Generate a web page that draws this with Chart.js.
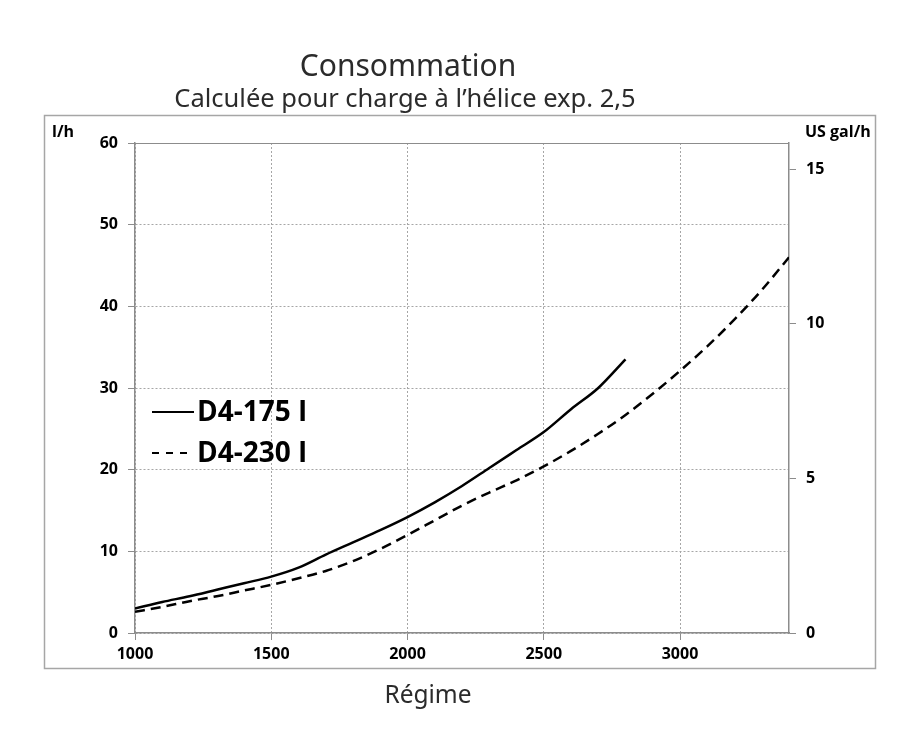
<!DOCTYPE html>
<html>
<head>
<meta charset="utf-8">
<script src="https://cdn.jsdelivr.net/npm/chart.js@4.4.1/dist/chart.umd.min.js"></script>
<style>
  html, body { margin: 0; padding: 0; background: #fff; }
  #wrap { width: 900px; height: 750px; }
</style>
</head>
<body>
<div id="wrap"><canvas id="chart" width="900" height="750"></canvas></div>
<script>
// Chart texts
const titleText = 'Consommation';
const subtitleText = 'Calculée pour charge à l’hélice exp. 2,5';
const xTitle = 'Régime';
const yTitle = 'l/h';
const y2Title = 'US gal/h';

// Engine speed (rpm) and fuel consumption (l/h)
const rpm175 = [1000, 1100, 1200, 1300, 1400, 1500, 1600, 1700, 1800, 1900,
                2000, 2100, 2200, 2300, 2400, 2500, 2600, 2700, 2800];
const d4_175 = [3.0, 3.8, 4.5, 5.3, 6.1, 6.9, 8.0, 9.6, 11.1, 12.6,
                14.2, 16.0, 18.0, 20.2, 22.4, 24.6, 27.4, 30.0, 33.5];

const rpm230 = [1000, 1100, 1200, 1300, 1400, 1500, 1600, 1700, 1800, 1900,
                2000, 2100, 2200, 2300, 2400, 2500, 2600, 2700, 2800, 2900,
                3000, 3100, 3200, 3300, 3400];
const d4_230 = [2.6, 3.2, 3.9, 4.5, 5.2, 5.9, 6.7, 7.6, 8.8, 10.3,
                12.0, 13.8, 15.6, 17.2, 18.7, 20.4, 22.3, 24.4, 26.7, 29.3,
                32.1, 35.1, 38.4, 42.0, 46.0];

// Axis ranges / ticks
const xTicks = [1000, 1500, 2000, 2500, 3000];
const xMin = 1000, xMax = 3400;
const yMax = 60, yStep = 10;
const litresPerGallon = 3.785;
const y2Ticks = [0, 5, 10, 15];

const toPoints = (xs, ys) => xs.map((x, i) => ({ x: x, y: ys[i] }));

const tickFont = { family: 'Open Sans', size: 16, weight: 'bold' };

// Outer frame, titles, unit labels and the in-plot legend
const decor = {
  id: 'decor',
  beforeDraw(chart) {
    const ctx = chart.ctx;
    ctx.save();
    ctx.fillStyle = '#fff';
    ctx.fillRect(0, 0, chart.width, chart.height);
    ctx.strokeStyle = '#a6a6a6';
    ctx.lineWidth = 1.5;
    ctx.strokeRect(44.5, 115.5, 831, 553);
    ctx.restore();
  },
  afterDraw(chart) {
    const ctx = chart.ctx;
    const area = chart.chartArea;
    ctx.save();
    // top edge of the plot area
    ctx.strokeStyle = '#8c8c8c';
    ctx.lineWidth = 1;
    ctx.beginPath();
    ctx.moveTo(area.left, Math.round(area.top) + 0.5);
    ctx.lineTo(area.right, Math.round(area.top) + 0.5);
    ctx.stroke();

    ctx.fillStyle = '#2b2b2b';
    ctx.textAlign = 'center';
    ctx.textBaseline = 'alphabetic';
    ctx.font = '30px "Noto Sans"';
    ctx.fillText(titleText, 408, 76);
    ctx.font = '25.5px "Noto Sans"';
    ctx.fillText(subtitleText, 405, 107);
    ctx.font = '24.5px "Noto Sans"';
    ctx.fillText(xTitle, 428, 703);

    ctx.fillStyle = '#000';
    ctx.font = 'bold 16px "Open Sans"';
    ctx.textAlign = 'left';
    ctx.fillText(yTitle, 52, 137);
    ctx.fillText(y2Title, 805, 137);

    // legend
    const rows = [412, 453];
    chart.data.datasets.forEach((ds, i) => {
      const y = rows[i];
      ctx.strokeStyle = ds.borderColor;
      ctx.lineWidth = 2;
      ctx.setLineDash(ds.borderDash && ds.borderDash.length ? [7, 7] : []);
      ctx.beginPath();
      ctx.moveTo(152, y);
      ctx.lineTo(194, y);
      ctx.stroke();
      ctx.setLineDash([]);
      ctx.fillStyle = '#000';
      ctx.font = 'bold 28px "Open Sans"';
      ctx.textBaseline = 'middle';
      ctx.fillText(ds.label, 197, y + 1);
    });
    ctx.restore();
  }
};

new Chart(document.getElementById('chart'), {
  type: 'line',
  data: {
    datasets: [
      {
        label: 'D4-175 I',
        data: toPoints(rpm175, d4_175),
        borderColor: '#000',
        borderWidth: 2.5,
        pointRadius: 0,
        cubicInterpolationMode: 'monotone',
        fill: false
      },
      {
        label: 'D4-230 I',
        data: toPoints(rpm230, d4_230),
        borderColor: '#000',
        borderWidth: 2.5,
        borderDash: [10, 6],
        pointRadius: 0,
        cubicInterpolationMode: 'monotone',
        fill: false
      }
    ]
  },
  options: {
    responsive: false,
    animation: false,
    layout: { padding: { left: 44, right: 25, top: 143, bottom: 81 } },
    plugins: {
      legend: { display: false },
      title: { display: false },
      tooltip: { enabled: false }
    },
    scales: {
      x: {
        type: 'linear',
        min: xMin,
        max: xMax,
        afterBuildTicks: scale => { scale.ticks = xTicks.map(v => ({ value: v })); },
        afterFit: scale => { scale.height = 36; },
        ticks: { font: tickFont, color: '#000', padding: 5, maxRotation: 0, callback: v => String(v) },
        grid: { color: '#a6a6a6', lineWidth: 1, tickLength: 7, tickColor: '#8c8c8c' },
        border: { color: '#8c8c8c', width: 1.5, dash: [2, 2] }
      },
      y: {
        position: 'left',
        min: 0,
        max: yMax,
        ticks: { stepSize: yStep, font: tickFont, color: '#000', padding: 10, callback: v => String(v) },
        afterFit: scale => { scale.width = 91; },
        grid: { color: '#a6a6a6', lineWidth: 1, tickLength: 7, tickColor: '#8c8c8c' },
        border: { color: '#8c8c8c', width: 1.5, dash: [2, 2] }
      },
      y2: {
        position: 'right',
        min: 0,
        max: yMax / litresPerGallon,
        afterBuildTicks: scale => { scale.ticks = y2Ticks.map(v => ({ value: v })); },
        afterFit: scale => { scale.width = 86; },
        ticks: { font: tickFont, color: '#000', padding: 10, callback: v => String(v) },
        grid: { drawOnChartArea: false, tickLength: 7, tickColor: '#8c8c8c' },
        border: { color: '#8c8c8c', width: 1.5 }
      }
    }
  },
  plugins: [decor]
});
</script>
</body>
</html>
